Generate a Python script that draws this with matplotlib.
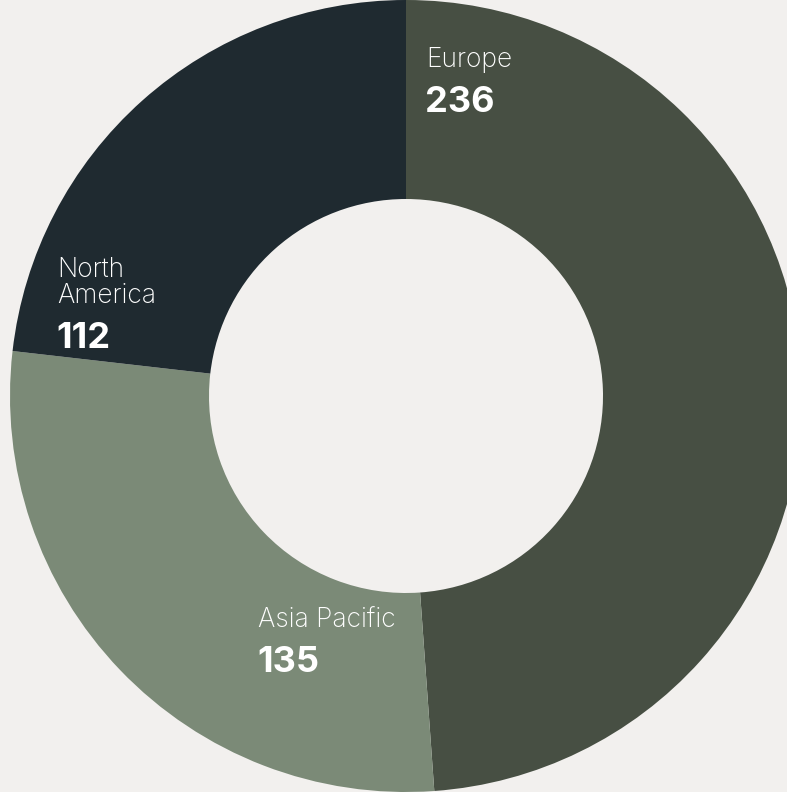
import matplotlib.pyplot as plt

# data
regions = ["Europe", "Asia Pacific", "North America"]
values = [236, 135, 112]
colors = ["#474f43", "#7b8a77", "#1f2a30"]
label_lines = [["Europe"], ["Asia Pacific"], ["North", "America"]]

bg = "#f2f0ee"
plt.rcParams['font.family'] = ['Inter', 'DejaVu Sans']

fig = plt.figure(figsize=(7.87, 7.92), dpi=100, facecolor=bg)
ax = fig.add_axes([0, 0, 1, 1])
ax.set_facecolor(bg)

# work in pixel coordinates (y flipped by negating)
cx, cy, r_out, r_in = 406, 396, 396, 197
ax.pie(values, colors=colors, startangle=90, counterclock=False,
       center=(cx, -cy), radius=r_out,
       wedgeprops=dict(width=r_out - r_in, edgecolor="none"))
ax.set_xlim(0, 787)
ax.set_ylim(-792, 0)
ax.set_aspect("equal")
ax.axis("off")

# label anchors: left x and baseline of the last name line
label_pos = [(426, 67), (258, 627), (57, 303)]
for lines, val, (x, y) in zip(label_lines, values, label_pos):
    for i, line in enumerate(reversed(lines)):
        ax.text(x, -(y - 26 * i), line, color="white", fontsize=19,
                fontweight="light", ha="left", va="baseline")
    ax.text(x - 1, -(y + 45), str(val), color="white", fontsize=26,
            fontweight="bold", ha="left", va="baseline")

fig.savefig("out.png", dpi=100, facecolor=bg)
